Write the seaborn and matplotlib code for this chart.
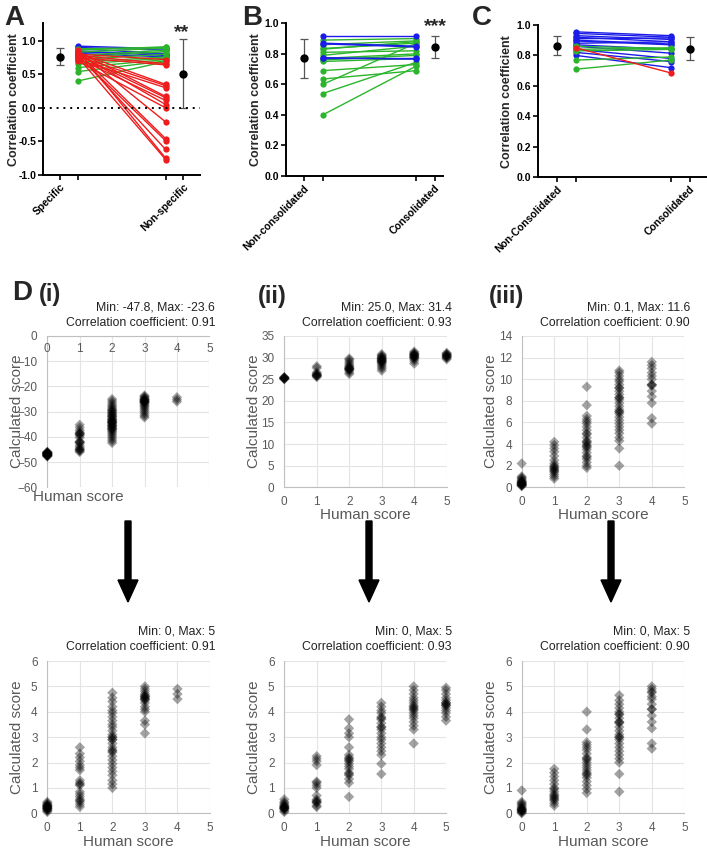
import numpy as np
import pandas as pd
import seaborn as sns
import matplotlib.pyplot as plt

sns.set_theme(style="white")
plt.rcParams["font.family"] = ["Liberation Sans", "DejaVu Sans"]

W, H = 707, 850

# ---- panel A: specific vs non-specific ----
a_start = [0.92, 0.90, 0.88, 0.85, 0.83, 0.81,
           0.40, 0.54, 0.60, 0.65, 0.68, 0.72, 0.75, 0.78, 0.83, 0.86, 0.88,
           0.80, 0.78, 0.75, 0.82, 0.77, 0.72, 0.84, 0.79, 0.74, 0.81, 0.70,
           0.85, 0.83, 0.78, 0.80, 0.86, 0.76]
a_end = [0.88, 0.86, 0.81, 0.78, 0.80, 0.76,
         0.69, 0.70, 0.72, 0.74, 0.76, 0.80, 0.84, 0.86, 0.89, 0.91, 0.90,
         0.72, 0.66, 0.64, 0.35, 0.33, 0.30, 0.17, 0.15, 0.11, 0.05, 0.00,
         -0.21, -0.46, -0.49, -0.62, -0.75, -0.77]
a_group = ["blue"] * 6 + ["green"] * 11 + ["red"] * 17
a_mean = [0.76, 0.51]
a_low = [0.64, 0.00]
a_high = [0.89, 1.02]

# ---- panel B: non-consolidated vs consolidated ----
b_start = [0.40, 0.54, 0.60, 0.635, 0.69, 0.75, 0.77, 0.79, 0.81, 0.835, 0.86, 0.89, 0.83, 0.76,
           0.92, 0.87, 0.865, 0.77, 0.775]
b_end = [0.72, 0.745, 0.87, 0.69, 0.73, 0.77, 0.80, 0.85, 0.82, 0.87, 0.885, 0.90, 0.88, 0.79,
         0.92, 0.85, 0.845, 0.77, 0.765]
b_group = ["green"] * 14 + ["blue"] * 5
b_mean = [0.77, 0.845]
b_low = [0.64, 0.77]
b_high = [0.90, 0.92]

# ---- panel C: non-consolidated vs consolidated ----
c_start = [0.955, 0.945, 0.93, 0.92, 0.91, 0.90, 0.88, 0.86, 0.84, 0.82, 0.80, 0.87, 0.895,
           0.71, 0.77, 0.84, 0.86, 0.83,
           0.85]
c_end = [0.93, 0.92, 0.905, 0.89, 0.915, 0.875, 0.89, 0.815, 0.78, 0.76, 0.72, 0.84, 0.87,
         0.77, 0.79, 0.85, 0.845, 0.84,
         0.685]
c_group = ["blue"] * 13 + ["green"] * 5 + ["red"]
c_mean = [0.865, 0.845]
c_low = [0.805, 0.77]
c_high = [0.93, 0.92]

palette = {"blue": "#1c1ce8", "green": "#2cb52c", "red": "#ee1c1c"}

# ---- panel D: calculated score per human score (index = human score) ----
raw_i = [
    [-45.9, -46.1, -46.3, -46.4, -46.5, -46.6, -46.7, -46.8, -46.9, -47.0, -47.1, -47.2,
     -47.3, -47.4, -47.5, -47.6, -47.8, -46.2, -46.6, -47.0],
    [-35.2, -36.3, -37.4, -38.2, -38.6, -39.0, -39.5, -40.3, -41.8, -42.2, -42.6, -43.5,
     -44.2, -44.8, -45.2, -45.6, -46.0, -38.8, -42.0, -45.0],
    [-25.0, -25.8, -26.6, -27.4, -28.0, -28.6, -29.2, -29.8, -30.4, -31.0, -31.5, -32.0,
     -32.5, -33.0, -33.4, -33.8, -34.2, -34.6, -35.0, -35.4, -35.8, -36.2, -36.6, -37.0,
     -37.5, -38.0, -38.6, -39.3, -40.0, -40.8, -41.6, -42.4, -29.5, -31.8, -33.2, -34.4,
     -35.6, -36.8, -30.6, -34.0],
    [-23.6, -24.0, -24.4, -24.8, -25.1, -25.4, -25.7, -26.0, -26.3, -26.6, -27.0, -27.5,
     -28.0, -28.6, -29.3, -30.0, -30.8, -31.6, -32.3, -25.2, -25.8, -26.2],
    [-24.3, -25.2, -26.0],
]
raw_ii = [
    [25.0, 25.1, 25.2, 25.3, 25.4, 25.5, 25.2, 25.3],
    [25.5, 25.7, 25.9, 26.1, 26.3, 26.6, 27.6, 28.0, 25.8, 26.0],
    [26.2, 26.6, 27.0, 27.2, 27.4, 27.6, 27.8, 28.0, 28.3, 28.7, 29.1, 29.5, 29.8, 27.3, 27.5],
    [27.0, 27.5, 27.9, 28.3, 28.6, 28.9, 29.1, 29.3, 29.5, 29.7, 29.9, 30.1, 30.3, 30.5,
     30.8, 29.0, 29.4, 29.8],
    [28.6, 29.2, 29.6, 29.9, 30.1, 30.3, 30.5, 30.7, 30.9, 31.1, 31.4, 30.0, 30.4, 30.8],
    [29.6, 29.9, 30.1, 30.3, 30.5, 30.7, 30.9, 31.1, 30.2, 30.6],
]
raw_iii = [
    [0.1, 0.15, 0.2, 0.25, 0.3, 0.35, 0.4, 0.45, 0.5, 0.55, 0.6, 0.7, 0.8, 0.9, 1.0, 2.2,
     0.2, 0.3, 0.4],
    [0.8, 1.0, 1.2, 1.4, 1.6, 1.7, 1.8, 2.0, 2.2, 2.5, 2.9, 3.3, 3.6, 3.9, 4.2, 1.5, 1.9],
    [1.8, 2.0, 2.3, 2.6, 2.9, 3.2, 3.5, 3.7, 3.9, 4.1, 4.3, 4.6, 4.9, 5.0, 5.3, 5.6, 5.9,
     6.1, 6.3, 6.6, 7.6, 9.3, 3.8, 4.2, 2.8],
    [2.0, 3.6, 4.3, 4.6, 5.0, 5.3, 5.6, 5.9, 6.2, 6.5, 6.8, 7.0, 7.2, 7.5, 7.8, 8.1, 8.3,
     8.6, 8.9, 9.2, 9.5, 9.8, 10.0, 10.3, 10.6, 10.8, 7.0, 8.3, 9.2],
    [5.9, 6.4, 7.8, 8.4, 8.9, 9.5, 9.5, 10.0, 10.3, 10.6, 11.0, 11.3, 11.6, 9.4],
]
norm_i = [
    [0.05, 0.1, 0.12, 0.15, 0.18, 0.2, 0.22, 0.25, 0.28, 0.3, 0.33, 0.36, 0.4, 0.45, 0.2,
     0.25, 0.3],
    [0.25, 0.35, 0.45, 0.55, 0.65, 0.75, 0.85, 1.1, 1.2, 1.3, 1.7, 1.8, 1.9, 2.05, 2.2,
     2.35, 2.6, 0.5, 1.15],
    [1.0, 1.15, 1.3, 1.5, 1.65, 1.8, 1.95, 2.1, 2.25, 2.4, 2.5, 2.6, 2.75, 2.9, 3.0, 3.1,
     3.25, 3.4, 3.5, 3.65, 3.8, 3.95, 4.05, 4.2, 4.4, 4.55, 4.75, 2.45, 3.0, 2.9],
    [3.15, 3.5, 3.65, 4.0, 4.1, 4.2, 4.35, 4.45, 4.5, 4.55, 4.6, 4.65, 4.7, 4.8, 4.9, 5.0,
     4.5, 4.6],
    [4.5, 4.7, 4.9],
]
norm_ii = [
    [0.05, 0.1, 0.15, 0.18, 0.2, 0.22, 0.25, 0.28, 0.3, 0.35, 0.4, 0.45, 0.55, 0.2, 0.25],
    [0.25, 0.3, 0.4, 0.45, 0.5, 0.55, 0.7, 1.0, 1.1, 1.2, 1.25, 1.9, 2.05, 2.15, 2.25, 0.45],
    [0.65, 1.2, 1.35, 1.5, 1.6, 1.75, 1.85, 1.95, 2.05, 2.15, 2.2, 2.3, 2.6, 3.0, 3.15,
     3.35, 3.7, 2.1, 1.55],
    [1.55, 1.95, 2.3, 2.45, 2.6, 2.75, 2.9, 3.0, 3.15, 3.3, 3.4, 3.55, 3.7, 3.8, 3.95, 4.05,
     4.2, 4.35, 3.4, 3.75],
    [2.75, 3.3, 3.45, 3.6, 3.75, 3.85, 3.95, 4.05, 4.15, 4.25, 4.35, 4.45, 4.55, 4.7, 4.85,
     5.0, 4.1, 4.2],
    [3.65, 3.8, 3.95, 4.05, 4.15, 4.25, 4.3, 4.35, 4.45, 4.55, 4.7, 4.85, 4.95, 4.25, 4.35],
]
norm_iii = [
    [0.0, 0.03, 0.06, 0.09, 0.12, 0.15, 0.18, 0.21, 0.25, 0.3, 0.35, 0.4, 0.45, 0.9, 0.1,
     0.15],
    [0.3, 0.4, 0.5, 0.55, 0.6, 0.7, 0.75, 0.85, 0.95, 1.0, 1.15, 1.3, 1.45, 1.6, 1.75, 0.65],
    [0.8, 0.95, 1.1, 1.25, 1.4, 1.5, 1.6, 1.7, 1.8, 1.9, 2.0, 2.1, 2.2, 2.35, 2.5, 2.6, 2.7,
     2.8, 3.3, 4.0, 1.55, 2.15],
    [0.85, 1.55, 2.0, 2.15, 2.3, 2.45, 2.6, 2.75, 2.9, 3.0, 3.1, 3.25, 3.4, 3.55, 3.6, 3.75,
     3.9, 4.0, 4.15, 4.3, 4.45, 4.65, 3.0, 3.6, 3.9],
    [2.55, 2.75, 3.35, 3.6, 3.85, 4.1, 4.1, 4.3, 4.5, 4.6, 4.75, 4.9, 5.0, 4.8],
]

fig = plt.figure(figsize=(W / 100, H / 100), dpi=100)


def box(l, t, r, b):
    return [l / W, 1 - b / H, (r - l) / W, (b - t) / H]


def pair_panel(rect, start, end, group, order, mean, low, high, labels, xlim, ylim, yticks):
    ax = fig.add_axes(box(*rect))
    rows = []
    for i, (s, e, g) in enumerate(zip(start, end, group)):
        rows.append((i, 1, s, g))
        rows.append((i, 6, e, g))
    df = pd.DataFrame(rows, columns=["pair", "pos", "r", "group"])
    sns.lineplot(data=df, x="pos", y="r", units="pair", estimator=None, hue="group",
                 hue_order=order, palette=palette, marker="o", markersize=4.5,
                 markeredgewidth=0, linewidth=1, legend=False, sort=False, ax=ax)
    err = [np.array(mean) - np.array(low), np.array(high) - np.array(mean)]
    ax.errorbar([0, 7], mean, yerr=err, fmt="o", color="black", ms=5, ecolor="#555555",
                elinewidth=0.9, capsize=3, capthick=0.9)
    ax.set_xlim(xlim)
    ax.set_ylim(ylim)
    ax.set_yticks(yticks)
    ax.set_yticklabels([f"{v:.1f}" for v in yticks])
    ax.set_xticks([0, 1, 6, 7])
    ax.set_xticklabels([labels[0], "", "", labels[1]], rotation=45, ha="right",
                       rotation_mode="anchor")
    ax.set_xlabel("")
    ax.set_ylabel("Correlation coefficient", fontsize=9, fontweight="bold")
    ax.yaxis.set_label_coords(-0.15, 0.5)
    ax.tick_params(bottom=True, left=True, direction="out", length=3.5, width=1.2,
                   labelsize=7.5, colors="black", pad=1.5)
    for lbl in ax.get_xticklabels() + ax.get_yticklabels():
        lbl.set_fontweight("bold")
    for side in ["top", "right"]:
        ax.spines[side].set_visible(False)
    for side in ["left", "bottom"]:
        ax.spines[side].set_color("black")
        ax.spines[side].set_linewidth(1.4)
    return ax


def score_panel(rect, groups, ylim, ystep, top_axis=False):
    ax = fig.add_axes(box(*rect))
    rows = [(h, v) for h, vals in enumerate(groups) for v in vals]
    df = pd.DataFrame(rows, columns=["human", "calc"])
    sns.scatterplot(data=df, x="human", y="calc", marker="D", s=28, color="black",
                    alpha=0.36, edgecolor="none", clip_on=False, zorder=3, ax=ax)
    ax.set_xlim(0, 5)
    ax.set_ylim(ylim)
    ax.set_xticks(range(6))
    ax.set_yticks(np.arange(ylim[0], ylim[1] + 0.001, ystep))
    ax.grid(True, color="#e4e4e4", linewidth=0.8)
    ax.set_axisbelow(True)
    ax.set_ylabel("Calculated score", fontsize=11, color="#595959")
    ax.yaxis.set_label_coords(-0.145, 0.5)
    ax.set_xlabel("")
    ax.tick_params(bottom=False, left=False, top=False, length=0, labelsize=8.5,
                   colors="#595959")
    ax.tick_params(axis="y", pad=7)
    ax.tick_params(axis="x", pad=6)
    for side in ["top", "right", "bottom", "left"]:
        ax.spines[side].set_visible(False)
    ax.spines["left"].set_visible(True)
    ax.spines["left"].set_color("#bfbfbf")
    ax.spines["left"].set_linewidth(0.8)
    edge = "top" if top_axis else "bottom"
    ax.spines[edge].set_visible(True)
    ax.spines[edge].set_color("#bfbfbf")
    ax.spines[edge].set_linewidth(0.8)
    if top_axis:
        # x axis crosses at 0, which is the top of this panel
        ax.tick_params(axis="x", labelbottom=False)
        for h in range(6):
            ax.annotate(str(h), (h, ylim[1]), xytext=(0, -9.5), textcoords="offset points",
                        ha="center", va="center", fontsize=8.5, color="#595959")
    else:
        ax.set_xlabel("Human score", fontsize=11, color="#595959")
        ax.xaxis.set_label_coords(0.5, -0.14)
    return ax


pair_panel((43.3, 23.3, 200, 175), a_start, a_end, a_group, ["blue", "green", "red"],
           a_mean, a_low, a_high, ["Specific", "Non-specific"], (-0.95, 7.95), (-1.0, 1.26),
           [-1.0, -0.5, 0.0, 0.5, 1.0]).axhline(0, color="black", ls=(0, (1, 2.5)), lw=1.4)
pair_panel((286, 23.3, 443, 176), b_start, b_end, b_group, ["green", "blue"],
           b_mean, b_low, b_high, ["Non-consolidated", "Consolidated"], (-0.96, 7.43), (0, 1.0),
           [0.0, 0.2, 0.4, 0.6, 0.8, 1.0])
pair_panel((538.3, 25, 707, 177.3), c_start, c_end, c_group, ["blue", "green", "red"],
           c_mean, c_low, c_high, ["Non-Consolidated", "Consolidated"], (-1.0, 7.9), (0, 1.0),
           [0.0, 0.2, 0.4, 0.6, 0.8, 1.0])

score_panel((47.3, 336, 209.3, 487.3), raw_i, (-60, 0), 10, top_axis=True)
score_panel((284.3, 336, 446.7, 487.3), raw_ii, (0, 35), 5)
score_panel((521.7, 336, 684.3, 487.3), raw_iii, (0, 14), 2)
score_panel((47.3, 661, 210, 813.3), norm_i, (0, 6), 1)
score_panel((284.3, 661, 446, 813.3), norm_ii, (0, 6), 1)
score_panel((521.7, 661, 684.3, 813.3), norm_iii, (0, 6), 1)

# overlay in pixel coordinates for labels and arrows
ov = fig.add_axes([0, 0, 1, 1])
ov.set_xlim(0, W)
ov.set_ylim(H, 0)
ov.set_axis_off()

for x, y, s in [(4, 18, "A"), (242, 18, "B"), (472, 18, "C")]:
    ov.text(x, y, s, fontsize=20, fontweight="bold", va="center", ha="left")
ov.text(182, 33, "**", fontsize=14, fontweight="bold", ha="center", va="center")
ov.text(435, 27, "***", fontsize=14, fontweight="bold", ha="center", va="center")

ov.text(12, 293, "D", fontsize=20, fontweight="bold", va="center", ha="left")
ov.text(50, 295, "(i)", fontsize=17, fontweight="bold", va="center", ha="center")
ov.text(272, 296, "(ii)", fontsize=17, fontweight="bold", va="center", ha="center")
ov.text(507, 296, "(iii)", fontsize=17, fontweight="bold", va="center", ha="center")

titles_top = [(215, "Min: -47.8, Max: -23.6", "Correlation coefficient: 0.91"),
              (452, "Min: 25.0, Max: 31.4", "Correlation coefficient: 0.93"),
              (690, "Min: 0.1, Max: 11.6", "Correlation coefficient: 0.90")]
titles_bottom = [(215, "Min: 0, Max: 5", "Correlation coefficient: 0.91"),
                 (452, "Min: 0, Max: 5", "Correlation coefficient: 0.93"),
                 (690, "Min: 0, Max: 5", "Correlation coefficient: 0.90")]
for (x, t1, t2) in titles_top:
    ov.text(x, 307, t1, fontsize=8.8, ha="right", va="center", color="#222222")
    ov.text(x, 322.5, t2, fontsize=8.8, ha="right", va="center", color="#222222")
for (x, t1, t2) in titles_bottom:
    ov.text(x, 632, t1, fontsize=8.8, ha="right", va="center", color="#222222")
    ov.text(x, 647.5, t2, fontsize=8.8, ha="right", va="center", color="#222222")

ov.text(78, 497, "Human score", fontsize=11, color="#595959", ha="center", va="center")

for x in [128, 369, 611]:
    ov.arrow(x, 521, 0, 81, width=6, head_width=20, head_length=22,
             length_includes_head=True, color="black")

fig.savefig("out.png", dpi=100)
